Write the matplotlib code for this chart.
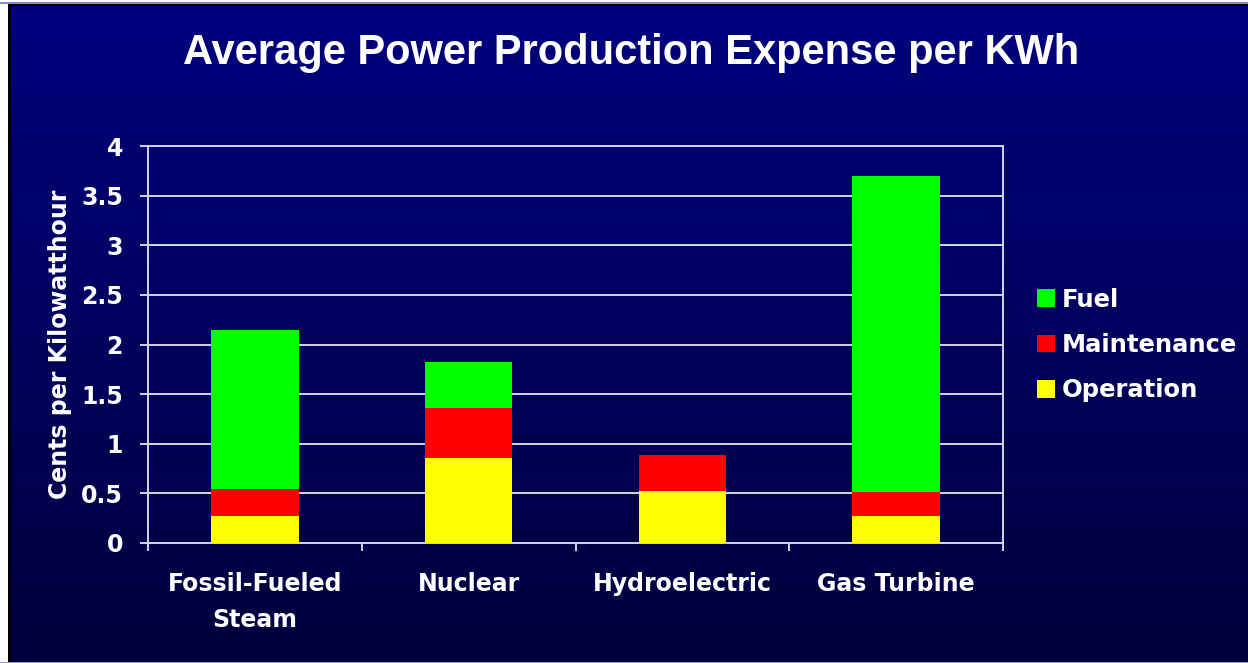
import matplotlib
matplotlib.use('Agg')
import matplotlib.pyplot as plt
import numpy as np
from matplotlib.patches import Patch, Rectangle
from matplotlib.colors import LinearSegmentedColormap

# ---- data ----
categories = ['Fossil-Fueled\nSteam', 'Nuclear', 'Hydroelectric', 'Gas Turbine']
operation = [0.27, 0.86, 0.52, 0.27]
maintenance = [0.27, 0.50, 0.37, 0.24]
fuel = [1.61, 0.46, 0.0, 3.19]
series_names = ['Operation', 'Maintenance', 'Fuel']
series_colors = ['#ffff00', '#ff0000', '#00ff00']
yticks = [0, 0.5, 1, 1.5, 2, 2.5, 3, 3.5, 4]
ytick_labels = ['0', '0.5', '1', '1.5', '2', '2.5', '3', '3.5', '4']
title = 'Average Power Production Expense per KWh'
ylabel = 'Cents per Kilowatthour'

W, H = 1248, 663
fig = plt.figure(figsize=(W / 100, H / 100), dpi=100)

# gradient background
bg = fig.add_axes([0, 0, 1, 1])
bg.set_axis_off()
grad = np.linspace(0, 1, 256).reshape(-1, 1)
cmap = LinearSegmentedColormap.from_list('bg', ['#000080', '#00003c'])
bg.imshow(grad, aspect='auto', cmap=cmap, extent=[0, 1, 0, 1], origin='upper')
bg.set_xlim(0, 1); bg.set_ylim(0, 1)

# outer frame decorations
def rect_px(x0, y0, w, h, color):
    fig.patches.append(Rectangle((x0 / W, 1 - (y0 + h) / H), w / W, h / H,
                                 transform=fig.transFigure, color=color,
                                 zorder=5, lw=0))

rect_px(0, 0, 8, H, '#ffffff')
rect_px(0, 0, W, 2, '#ffffff')
rect_px(0, 2, W, 1.5, '#8888cc')
rect_px(8, 3.5, W, 2.5, '#000000')
rect_px(8, 3.5, 2.5, H, '#000000')
rect_px(0, H - 1.5, W, 1.5, '#9999bb')

gc = '#d4d4e4'
ax = fig.add_axes([148 / W, 1 - 543 / H, 855 / W, 397 / H])
ax.set_facecolor('none')
x = np.arange(len(categories))
bottom = np.zeros(len(categories))
handles = []
for name, vals, c in zip(series_names, [operation, maintenance, fuel], series_colors):
    ax.bar(x, vals, 0.41, bottom=bottom, color=c, zorder=3, lw=0)
    bottom = bottom + np.array(vals)
    handles.append(Patch(facecolor=c, edgecolor='none', label=name))

ax.set_xlim(-0.5, len(categories) - 0.5)
ax.set_ylim(0, 4)
ax.set_yticks(yticks)
ax.set_yticklabels(ytick_labels, fontsize=17, fontweight='bold', color='white',
                   family='DejaVu Sans')
ax.yaxis.grid(True, color=gc, lw=1.4, zorder=1)
ax.set_axisbelow(True)
for s in ax.spines.values():
    s.set_color(gc)
    s.set_linewidth(1.4)

ax.set_xticks(np.arange(-0.5, len(categories), 1.0))
ax.set_xticklabels([])
ax.set_xticks(x, minor=True)
ax.set_xticklabels(categories, minor=True, fontsize=17, fontweight='bold',
                   color='white', family='DejaVu Sans', linespacing=1.6)
ax.tick_params(axis='x', which='minor', length=0, pad=21)
ax.tick_params(axis='x', which='major', length=6, color=gc, width=1.4)
ax.tick_params(axis='y', length=6, color=gc, width=1.4, pad=12)

ax.set_ylabel(ylabel, fontsize=17, fontweight='bold', color='white',
              family='DejaVu Sans')
ax.yaxis.set_label_coords(-0.089, 0.5)

fig.text(631 / W, 1 - 53 / H, title, ha='center', va='center', fontsize=30,
         fontweight='bold', color='white', family='Liberation Sans')

leg = fig.legend(handles=handles[::-1], loc='center left',
                 bbox_to_anchor=(1037 / W, 1 - 345 / H), frameon=False,
                 prop={'family': 'DejaVu Sans', 'weight': 'bold', 'size': 17.5},
                 labelcolor='white', handlelength=0.72, handleheight=0.72,
                 handletextpad=0.3, labelspacing=0.88, borderpad=0,
                 borderaxespad=0)

fig.savefig('out.png', dpi=100)
